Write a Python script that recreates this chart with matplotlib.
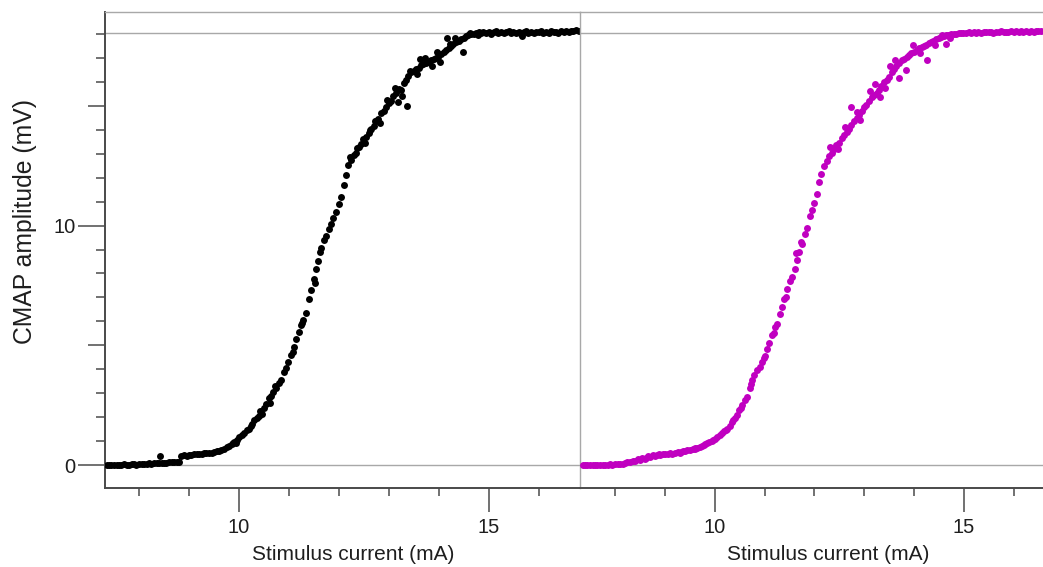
import numpy as np
import matplotlib
matplotlib.use('Agg')
import matplotlib.pyplot as plt
from matplotlib.ticker import FixedLocator

plt.rcParams['font.family'] = ['Liberation Sans', 'DejaVu Sans']

# left panel (black) - stimulus current (mA) / CMAP amplitude (mV)
x_left = [7.35, 7.40, 7.44, 7.49, 7.55, 7.60, 7.64, 7.70, 7.75, 7.79, 7.85, 7.90, 7.94, 8.00, 8.05, 8.09, 8.15, 8.20, 8.24, 8.30,
          8.35, 8.39, 8.45, 8.50, 8.54, 8.60, 8.65, 8.69, 8.75, 8.80, 8.42,
          8.84, 8.89, 8.95, 9.00, 9.04, 9.10, 9.15, 9.19, 9.25, 9.30, 9.34, 9.40, 9.45, 9.49, 9.55, 9.60, 9.64, 9.70,
          9.75, 9.79, 9.85, 9.90, 9.94, 10.00, 10.05, 10.09, 10.15, 10.20, 10.24, 10.30, 10.35, 10.39, 10.45, 10.50,
          10.54, 10.60, 10.65, 10.69, 10.75, 10.80, 10.84, 10.90, 10.95, 10.99, 11.05, 11.10, 11.14, 11.20, 11.25, 11.29,
          11.35, 11.40, 11.44, 11.50, 11.55, 11.59, 11.65, 11.70, 11.74, 11.80, 11.85, 11.89, 11.95, 12.00, 12.04, 12.10,
          12.15, 12.19, 12.25, 12.30, 12.34, 12.40, 12.45, 12.49, 12.55, 12.60, 12.64, 12.70, 12.75, 12.79, 12.85, 12.90,
          12.94, 13.00, 13.05, 13.09, 13.15, 13.20, 13.24, 13.30, 13.35, 13.39, 13.45, 13.50, 13.54, 13.60, 13.65, 13.69,
          13.75, 13.80, 13.84, 13.90, 13.95, 13.99, 14.05, 14.10, 14.14, 14.20, 14.25, 14.29, 14.35, 14.40, 14.44, 14.50,
          14.55, 14.59, 14.65, 14.70, 14.74, 14.80,
          14.85, 14.89, 14.95, 15.00, 15.04, 15.10, 15.15, 15.19, 15.25, 15.30, 15.34, 15.40, 15.45, 15.49, 15.55, 15.60,
          15.64, 15.70, 15.75, 15.79, 15.85, 15.90, 15.94, 16.00, 16.05, 16.09, 16.15, 16.20, 16.24, 16.30, 16.35, 16.39,
          16.45, 16.50, 16.54, 16.60, 16.65, 16.69, 16.75, 16.80,
          12.22, 12.36, 12.52, 12.62, 12.72, 12.82, 12.97, 13.12, 13.18, 13.27, 13.36, 13.42, 13.56, 13.62, 13.72, 13.86,
          13.97, 14.02, 14.16, 14.22, 14.32, 14.48, 14.62, 14.78, 15.66, 11.52, 11.62, 11.26, 11.08, 10.72, 10.42, 10.62,
          10.26, 9.96, 9.88]
y_left = [0.00, 0.01, -0.01, 0.00, 0.02, 0.01, 0.00, 0.03, 0.02, 0.01, 0.03, 0.04, 0.02, 0.05, 0.04, 0.06, 0.05, 0.07, 0.06, 0.08,
          0.07, 0.09, 0.08, 0.10, 0.09, 0.11, 0.12, 0.11, 0.13, 0.14, 0.36,
          0.36, 0.40, 0.38, 0.43, 0.41, 0.45, 0.44, 0.47, 0.46, 0.49, 0.50, 0.52, 0.51, 0.55, 0.58, 0.60, 0.64, 0.68,
          0.74, 0.80, 0.86, 0.97, 0.92, 1.18, 1.24, 1.33, 1.45, 1.52, 1.62, 1.90, 1.97, 2.05, 2.15, 2.38,
          2.55, 2.78, 2.88, 3.05, 3.20, 3.42, 3.55, 3.90, 4.05, 4.32, 4.60, 4.92, 5.25, 5.55, 5.85, 6.05,
          6.35, 6.95, 7.30, 7.75, 8.20, 8.50, 9.05, 9.40, 9.55, 9.85, 10.05, 10.30, 10.55, 10.90, 11.20, 11.70,
          12.10, 12.55, 12.75, 12.95, 13.05, 13.30, 13.40, 13.60, 13.70, 13.85, 14.05, 14.15, 14.35, 14.45, 14.70, 14.80,
          14.95, 15.10, 15.20, 15.40, 15.55, 15.70, 15.65, 15.95, 16.10, 16.25, 16.40, 16.45, 16.55, 16.60, 16.70, 16.75,
          16.78, 16.85, 16.90, 16.95, 17.00, 17.05, 17.15, 17.25, 17.35, 17.40, 17.50, 17.60, 17.65, 17.72, 17.80, 17.85,
          17.92, 17.95, 18.00, 18.02, 18.05, 18.08,
          18.06, 18.10, 18.04, 18.08, 18.02, 18.07, 18.11, 18.05, 18.09, 18.03, 18.08, 18.12, 18.06, 18.10, 18.04, 18.09,
          18.01, 18.07, 18.11, 18.06, 18.09, 18.05, 18.10, 18.07, 18.12, 18.06, 18.09, 18.05, 18.11, 18.08, 18.10, 18.06,
          18.12, 18.09, 18.13, 18.10, 18.14, 18.11, 18.15, 18.13,
          12.85, 13.25, 13.45, 14.00, 14.35, 14.30, 15.25, 15.75, 15.15, 15.40, 15.00, 16.45, 16.35, 16.95, 17.00, 16.65,
          17.25, 16.85, 17.85, 17.60, 17.85, 17.25, 18.05, 17.95, 17.92, 7.60, 8.90, 5.95, 4.70, 3.30, 2.25, 2.60,
          1.70, 1.05, 0.90]

# right panel (magenta)
x_right = [7.35, 7.40, 7.44, 7.49, 7.55, 7.60, 7.64, 7.70, 7.75, 7.79, 7.85, 7.90, 7.94, 8.00, 8.05, 8.09, 8.15, 8.20, 8.24, 8.30,
           8.35, 8.39, 8.45, 8.50, 8.54, 8.60, 8.65, 8.69, 8.75, 8.80, 8.84, 8.90, 8.95, 8.99, 9.05, 9.10, 9.14, 9.20,
           9.25, 9.29, 9.35, 9.40, 9.44, 9.50, 9.55, 9.59, 9.65, 9.70, 9.74, 9.80, 9.85, 9.89, 9.95, 10.00, 10.04, 10.10,
           10.15, 10.19, 10.25, 10.30, 10.34, 10.40, 10.45, 10.49, 10.55, 10.60, 10.64, 10.70, 10.75, 10.79, 10.85, 10.90,
           10.94, 11.00, 11.05, 11.09, 11.15, 11.20, 11.24, 11.30, 11.35, 11.39, 11.45, 11.50, 11.54, 11.60, 11.65, 11.69,
           11.75, 11.80, 11.84, 11.90, 11.95, 11.99, 12.05, 12.10, 12.14, 12.20, 12.25, 12.29, 12.35, 12.40, 12.44, 12.50,
           12.55, 12.59, 12.65, 12.70, 12.74, 12.80, 12.85, 12.89, 12.95, 13.00, 13.04, 13.10, 13.15, 13.19, 13.25, 13.30,
           13.34, 13.40, 13.45, 13.49, 13.55, 13.60, 13.64, 13.70, 13.75, 13.79, 13.85, 13.90, 13.94, 14.00, 14.05, 14.09,
           14.15, 14.20, 14.24, 14.30, 14.35, 14.39, 14.45, 14.50, 14.54, 14.60, 14.65, 14.69, 14.75, 14.80, 14.84, 14.90,
           14.95, 14.99, 15.05, 15.10, 15.14, 15.20, 15.25, 15.29, 15.35, 15.40, 15.44, 15.50, 15.55, 15.59, 15.65, 15.70,
           15.74, 15.80, 15.85, 15.89, 15.95, 16.00, 16.04, 16.10, 16.15, 16.19, 16.25, 16.30, 16.34, 16.40, 16.45, 16.49,
           16.55,
           12.74, 14.26, 14.64, 13.84, 13.70, 13.52, 13.62, 13.32, 13.12, 12.92, 12.62, 12.48, 12.32, 13.97, 14.12, 14.42,
           14.56, 14.72, 13.42, 13.22, 12.86, 11.62, 11.72, 11.42, 11.18, 10.98, 10.72, 10.52, 10.36, 10.22, 9.96, 9.78,
           8.62, 8.88, 9.32, 9.60]
y_right = [0.00, 0.01, -0.01, 0.00, 0.01, 0.00, 0.02, 0.01, 0.00, 0.02, 0.01, 0.03, 0.02, 0.03, 0.04, 0.03, 0.06, 0.09, 0.14, 0.12,
           0.18, 0.16, 0.24, 0.22, 0.30, 0.27, 0.36, 0.33, 0.40, 0.38, 0.43, 0.41, 0.46, 0.44, 0.48, 0.50, 0.47, 0.52,
           0.54, 0.51, 0.57, 0.60, 0.64, 0.62, 0.67, 0.70, 0.72, 0.76, 0.80, 0.86, 0.92, 0.98, 1.02, 1.10, 1.15, 1.25,
           1.32, 1.40, 1.52, 1.65, 1.78, 1.95, 2.10, 2.30, 2.50, 2.72, 2.85, 3.20, 3.55, 3.75, 3.95, 4.10,
           4.30, 4.55, 4.85, 5.10, 5.45, 5.75, 5.90, 6.30, 6.60, 6.95, 7.35, 7.70, 7.85, 8.20, 8.55, 8.90,
           9.25, 9.65, 9.90, 10.40, 10.65, 10.95, 11.30, 11.80, 12.15, 12.50, 12.70, 12.90, 13.05, 13.20, 13.35, 13.45,
           13.65, 13.80, 13.90, 14.05, 14.20, 14.35, 14.50, 14.60, 14.80, 14.95, 15.05, 15.20, 15.35, 15.45, 15.55, 15.65,
           15.85, 16.00, 16.10, 16.20, 16.40, 16.55, 16.65, 16.80, 16.90, 16.95, 17.05, 17.12, 17.20, 17.25, 17.35, 17.40,
           17.45, 17.50, 17.55, 17.62, 17.68, 17.72, 17.78, 17.82, 17.86, 17.90, 17.94, 17.97, 18.00, 18.02, 18.00, 18.04,
           18.03, 18.06, 18.04, 18.07, 18.05, 18.08, 18.06, 18.09, 18.05, 18.08, 18.10, 18.07, 18.09, 18.06, 18.10, 18.08,
           18.11, 18.07, 18.10, 18.08, 18.12, 18.09, 18.11, 18.08, 18.12, 18.10, 18.13, 18.09, 18.12, 18.10, 18.13, 18.11,
           18.14,
           14.95, 16.90, 17.60, 16.50, 16.15, 16.65, 16.90, 15.35, 15.60, 14.40, 14.10, 13.20, 13.30, 17.55, 17.20, 17.55,
           17.95, 17.85, 15.75, 15.90, 14.75, 8.85, 9.30, 7.00, 5.50, 4.45, 3.40, 2.40, 1.88, 1.45, 1.04, 0.85,
           0.31, 0.44, 0.56, 0.68]

x_major = [10, 15]
x_minor = [8, 9, 11, 12, 13, 14, 16]
y_major = [0, 5, 10, 15]
y_major_labels = ['0', '', '10', '']
y_minor = [1, 2, 3, 4, 6, 7, 8, 9, 11, 12, 13, 14, 16, 17, 18]
plateau = 18.05

dark = '#4a4a4a'
light = '#a8a8a8'
txt = '#1e1e1e'

fig = plt.figure(figsize=(10.43, 5.67), dpi=100)
W, H = 1043.0, 567.0
ax1 = fig.add_axes([104.5 / W, 79 / H, (580 - 104.5) / W, 476 / H])
ax2 = fig.add_axes([580 / W, 79 / H, 463 / W, 476 / H])

ax1.plot(x_left, y_left, 'o', ms=5.0, color='black', mew=0, zorder=3)
ax2.plot(x_right, y_right, 'o', ms=5.0, color='#c000c0', mew=0, zorder=3)

for ax in (ax1, ax2):
    ax.axhline(0, color=light, lw=1, zorder=1)
    ax.axhline(plateau, color=light, lw=1, zorder=1)
    ax.set_ylim(-0.96, 18.92)
    ax.xaxis.set_major_locator(FixedLocator(x_major))
    ax.xaxis.set_minor_locator(FixedLocator(x_minor))
    ax.tick_params(axis='x', which='major', direction='out', length=17.3, width=1.1, color=dark,
                   labelsize=14.5, labelcolor=txt, pad=4)
    ax.tick_params(axis='x', which='minor', direction='out', length=5.8, width=1.1, color=dark)
    ax.spines['bottom'].set_color(dark)
    ax.spines['bottom'].set_linewidth(1.4)
    ax.spines['top'].set_color(light)
    ax.spines['top'].set_linewidth(1)
    ax.set_xlabel('Stimulus current (mA)', fontsize=15, color=txt)

ax1.set_xlim(7.305, 16.83)
ax2.set_xlim(7.29, 16.59)

ax1.spines['left'].set_color(dark)
ax1.spines['left'].set_linewidth(1.4)
ax1.spines['right'].set_visible(False)
# divider between the two panels
ax2.spines['left'].set_color(light)
ax2.spines['left'].set_linewidth(1)
ax2.spines['right'].set_visible(False)

ax1.yaxis.set_major_locator(FixedLocator(y_major))
ax1.set_yticklabels(y_major_labels)
ax1.yaxis.set_minor_locator(FixedLocator(y_minor))
ax1.tick_params(axis='y', which='major', direction='out', length=19.4, width=1.1, color=dark,
                labelsize=14.5, labelcolor=txt, pad=1.5)
ax1.tick_params(axis='y', which='minor', direction='out', length=6.5, width=1.1, color=dark)
for t, v in zip(ax1.yaxis.get_major_ticks(), y_major):
    if v in (5, 15):
        t.tick1line.set_markersize(12.2)
ax2.tick_params(axis='y', which='both', left=False, labelleft=False)

ax1.set_ylabel('CMAP amplitude (mV)', fontsize=17.8, color=txt)
ax1.yaxis.set_label_coords(-0.142, 0.559)
ax1.xaxis.set_label_coords(0.5226, -0.1197)
ax2.xaxis.set_label_coords(0.5356, -0.1197)

fig.savefig('out.png', dpi=100)
